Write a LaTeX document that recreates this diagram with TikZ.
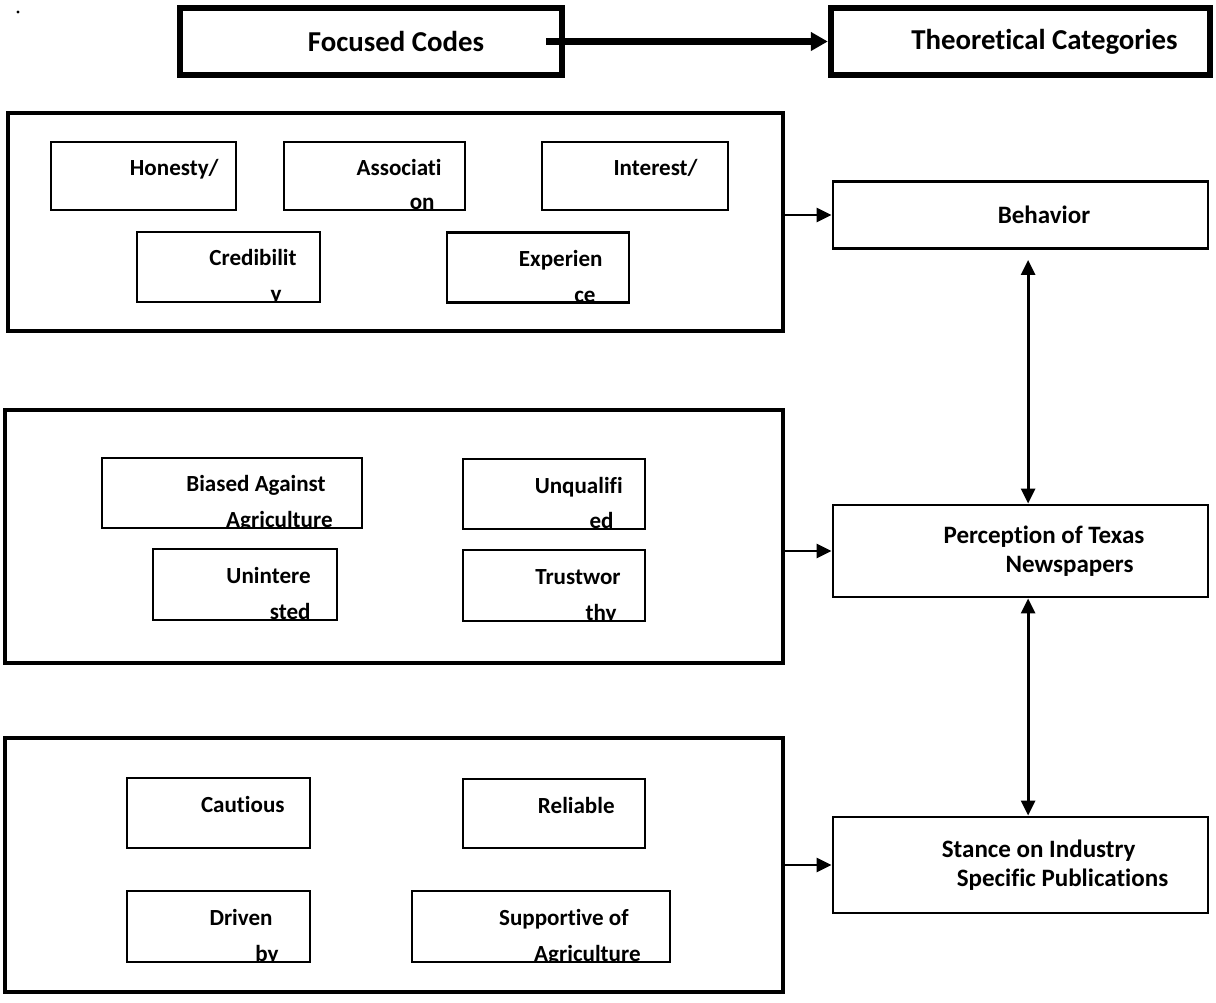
\documentclass[tikz,border=0pt]{standalone}
\usepackage{fontspec}
\setmainfont{Carlito}[Ligatures=NoCommon]
\usepackage{tikz}
\usetikzlibrary{positioning, arrows.meta}

% name, centre, width, height, gap 1, line 1, gap 2, line 2 (clipped)
\newcommand{\codebox}[8]{%
  \node[codebox, minimum width=#3cm, minimum height=#4cm, path picture={
    \node[codetext] at ([xshift=-#5cm, yshift=-0.85cm]path picture bounding box.north east) {#6};
    \node[codetext] at ([xshift=-#7cm, yshift=0.01cm]path picture bounding box.south east) {#8};
  }] (#1) at (#2) {};}

\begin{document}
\begin{tikzpicture}[x=0.025cm, y=-0.025cm,
    topbox/.style={draw, line width=4.5pt, minimum height=1.675cm,
      font=\fontsize{20.5}{24}\selectfont\bfseries},
    grpbox/.style={draw, line width=3pt},
    catbox/.style={draw, line width=2pt, minimum width=9.375cm, align=left,
      font=\fontsize{17.8}{21}\selectfont\bfseries},
    codebox/.style={draw, line width=2pt, inner sep=0pt},
    codetext/.style={draw=none, inner sep=0pt, anchor=base east, minimum width=0pt,
      minimum height=0pt, font=\fontsize{16.4}{20}\selectfont\bfseries},
    toparrow/.style={line width=5pt, -{Triangle[length=0.425cm, width=0.45cm]}},
    catarrow/.style={line width=2pt, -{Triangle[length=0.375cm, width=0.35cm]}},
    bothway/.style={line width=2pt,
      {Triangle[length=0.375cm, width=0.35cm]}-{Triangle[length=0.375cm, width=0.35cm]}}]
\useasboundingbox (0,0) rectangle (1216,1003);

\fill (18,12) circle (1.2pt);

\node[topbox, minimum width=9.55cm] (focused) at (371,41.5) {\hspace*{1.25cm}Focused Codes};
\node[topbox, minimum width=9.475cm] (theor) at (1020.5,41.5) {\hspace*{1.2cm}Theoretical Categories};
\draw[toparrow] ([xshift=-0.475cm]focused.east) -- (theor.west);

\node[grpbox, minimum width=19.375cm, minimum height=5.45cm] (grp1) at (395.5,222) {};
\node[grpbox, minimum width=19.45cm, minimum height=6.325cm] (grp2) at (394,536.5) {};
\node[grpbox, minimum width=19.45cm, minimum height=6.35cm] (grp3) at (394,865) {};

% focused codes
\codebox{honesty}{143.5,176}{4.625}{1.7}{0.4}{Honesty/}{0}{}
\codebox{assoc}{374.5,176}{4.525}{1.7}{0.55}{Associati}{0.725}{on}
\codebox{interest}{635,176}{4.65}{1.7}{0.725}{Interest/}{0}{}
\codebox{cred}{228.5,267}{4.575}{1.75}{0.55}{Credibilit}{0.925}{y}
\codebox{exper}{538,267.5}{4.55}{1.75}{0.625}{Experien}{0.8}{ce}

\codebox{biased}{232,493}{6.5}{1.75}{0.875}{Biased Against}{0.7}{Agriculture}
\codebox{unqual}{554,494}{4.55}{1.75}{0.525}{Unqualifi}{0.75}{ed}
\codebox{unint}{245,584.5}{4.6}{1.775}{0.625}{Unintere}{0.625}{sted}
\codebox{trust}{554,585.5}{4.55}{1.775}{0.575}{Trustwor}{0.675}{thy}

\codebox{cautious}{218.5,813}{4.575}{1.75}{0.6}{Cautious}{0}{}
\codebox{reliable}{554,813.5}{4.55}{1.725}{0.725}{Reliable}{0}{}
\codebox{driven}{218.5,926.5}{4.575}{1.775}{0.9}{Driven}{0.75}{by}
\codebox{support}{541,926.5}{6.45}{1.775}{1.0}{Supportive of}{0.7}{Agriculture}

% theoretical categories
\node[catbox, minimum height=1.675cm] (behavior) at (1020.5,215) {\hspace*{1.175cm}Behavior};
\node[catbox, minimum height=2.3cm] (percep) at (1020.5,551)
  {\hspace*{1.175cm}Perception of Texas\\\hspace*{2.725cm}Newspapers};
\node[catbox, minimum height=2.4cm] (stance) at (1020.5,865)
  {\hspace*{1.725cm}Stance on Industry\\\hspace*{2.1cm}Specific Publications};

\draw[catarrow] (grp1.east |- behavior.west) -- (behavior.west);
\draw[catarrow] (grp2.east |- percep.west) -- (percep.west);
\draw[catarrow] (grp3.east |- stance.west) -- (stance.west);
\draw[bothway, shorten <=0.25cm] ([xshift=0.19cm]behavior.south) -- ([xshift=0.19cm]percep.north);
\draw[bothway] ([xshift=0.19cm]percep.south) -- ([xshift=0.19cm]stance.north);
\end{tikzpicture}
\end{document}
